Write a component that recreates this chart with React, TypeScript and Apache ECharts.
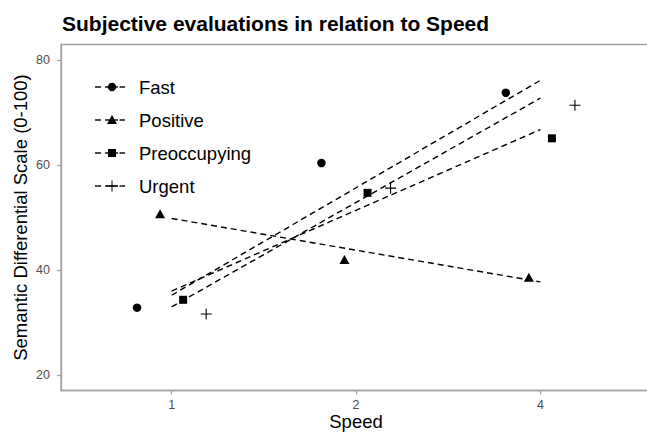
import React, { useEffect, useRef } from "react";
import * as echarts from "echarts";

const speedLabels = ["1", "2", "4"];
const groups = ["Fast", "Positive", "Preoccupying", "Urgent"];
const fastValues = [32.8, 60.4, 73.8];
const positiveValues = [50.7, 42.0, 38.6];
const preoccupyingValues = [34.3, 54.7, 65.1];
const urgentValues = [31.6, 55.6, 71.4];
const yTicks = [20, 40, 60, 80];

const groupValues = [fastValues, positiveValues, preoccupyingValues, urgentValues];
const dodgeOffsets = [-0.1875, -0.0625, 0.0625, 0.1875];
const plusPath = "path://M4.5,0h1v10h-1z M0,4.5h10v1h-10z";
const symbols: any[] = ["circle", "triangle", "rect", plusPath];
const symbolSizes: any[] = [8.5, [10, 9], 8, 11];

const FONT = "'Liberation Sans', Arial, Helvetica, sans-serif";
const AXIS_GREY = "#a3a3a3";
const LABEL_GREY = "#4d4d4d";

function fit(values: number[]) {
  const n = values.length;
  const xs = values.map((_, i) => i);
  const mx = xs.reduce((a, b) => a + b, 0) / n;
  const my = values.reduce((a, b) => a + b, 0) / n;
  let sxy = 0;
  let sxx = 0;
  xs.forEach((x, i) => {
    sxy += (x - mx) * (values[i] - my);
    sxx += (x - mx) * (x - mx);
  });
  const slope = sxy / sxx;
  const intercept = my - slope * mx;
  return [
    [0, intercept],
    [n - 1, intercept + slope * (n - 1)],
  ];
}

function legendGraphics() {
  const els: any[] = [];
  const markerX = 112;
  groups.forEach((g, i) => {
    const y = 87 + i * 33;
    const stroke = { stroke: "#000", lineWidth: 1.4 };
    els.push({ type: "line", shape: { x1: 95, y1: y, x2: 101, y2: y }, style: stroke, silent: true });
    els.push({ type: "line", shape: { x1: 105, y1: y, x2: 118, y2: y }, style: stroke, silent: true });
    els.push({ type: "line", shape: { x1: 119.5, y1: y, x2: 125, y2: y }, style: stroke, silent: true });
    if (i === 0) {
      els.push({ type: "circle", shape: { cx: markerX, cy: y, r: 4.2 }, style: { fill: "#000" }, silent: true });
    } else if (i === 1) {
      els.push({
        type: "polygon",
        shape: { points: [[markerX - 5, y + 4], [markerX + 5, y + 4], [markerX, y - 5]] },
        style: { fill: "#000" },
        silent: true,
      });
    } else if (i === 2) {
      els.push({ type: "rect", shape: { x: markerX - 4, y: y - 4, width: 8, height: 8 }, style: { fill: "#000" }, silent: true });
    } else {
      els.push({ type: "line", shape: { x1: markerX, y1: y - 5.5, x2: markerX, y2: y + 5.5 }, style: { stroke: "#000", lineWidth: 1 }, silent: true });
      els.push({ type: "line", shape: { x1: markerX - 5.5, y1: y, x2: markerX + 5.5, y2: y }, style: { stroke: "#000", lineWidth: 1 }, silent: true });
    }
    els.push({
      type: "text",
      x: 139,
      y: y,
      style: { text: g, fill: "#000", font: `18.5px ${FONT}`, textVerticalAlign: "middle", textAlign: "left" },
      silent: true,
    });
  });
  return els;
}

export default function App() {
  const ref = useRef<HTMLDivElement>(null);
  useEffect(() => {
    if (!ref.current) return;
    const chart = echarts.init(ref.current, undefined, { renderer: "svg" });
    const series: any[] = [];
    groups.forEach((g, gi) => {
      series.push({
        name: g + " trend",
        type: "line",
        data: fit(groupValues[gi]),
        symbol: "none",
        silent: true,
        lineStyle: { color: "#000", width: 1.4, type: [6, 4] },
        z: 3,
      });
    });
    groups.forEach((g, gi) => {
      series.push({
        name: g,
        type: "scatter",
        data: groupValues[gi].map((v, i) => [i + dodgeOffsets[gi], v]),
        symbol: symbols[gi],
        symbolSize: symbolSizes[gi],
        itemStyle: { color: "#000", opacity: 1 },
        z: 4,
      });
    });
    chart.setOption({
      animation: false,
      backgroundColor: "#fff",
      textStyle: { fontFamily: FONT },
      title: {
        text: "Subjective evaluations in relation to Speed",
        left: 57,
        top: 8,
        textStyle: { fontFamily: FONT, fontWeight: "bold", fontSize: 21, color: "#000" },
      },
      grid: {
        left: 61,
        right: -4,
        top: 44.5,
        bottom: 41.5,
        outerBoundsMode: "none",
        containLabel: false,
        show: true,
        borderColor: AXIS_GREY,
        borderWidth: 1.3,
        backgroundColor: "#fff",
      },
      xAxis: {
        type: "value",
        min: -0.6,
        max: 2.6,
        name: "Speed",
        nameLocation: "middle",
        nameGap: 21,
        nameMoveOverlap: false,
        nameTextStyle: { fontFamily: FONT, fontSize: 18.5, color: "#000" },
        axisLine: { show: true, onZero: false, lineStyle: { color: AXIS_GREY, width: 1.3 } },
        splitLine: { show: false },
        axisTick: {
          show: true,
          inside: false,
          length: 4,
          customValues: [0, 1, 2],
          lineStyle: { color: AXIS_GREY, width: 1.3 },
        },
        axisLabel: {
          customValues: [0, 1, 2],
          formatter: (v: number) => speedLabels[Math.round(v)] ?? "",
          fontFamily: FONT,
          fontSize: 12.5,
          color: LABEL_GREY,
          margin: 8,
        },
      },
      yAxis: {
        type: "value",
        min: 17,
        max: 83,
        name: "Semantic Differential Scale (0-100)",
        nameLocation: "middle",
        nameGap: 31,
        nameMoveOverlap: false,
        nameTextStyle: { fontFamily: FONT, fontSize: 18.5, color: "#000" },
        axisLine: { show: true, onZero: false, lineStyle: { color: AXIS_GREY, width: 1.3 } },
        splitLine: { show: false },
        axisTick: {
          show: true,
          inside: false,
          length: 4,
          customValues: yTicks,
          lineStyle: { color: AXIS_GREY, width: 1.3 },
        },
        axisLabel: {
          customValues: yTicks,
          fontFamily: FONT,
          fontSize: 12.5,
          color: LABEL_GREY,
          margin: 11,
        },
      },
      graphic: legendGraphics(),
      series,
    });
    return () => chart.dispose();
  }, []);
  return <div ref={ref} style={{ width: 647, height: 432, position: "fixed", left: 0, top: 0 }} />;
}
